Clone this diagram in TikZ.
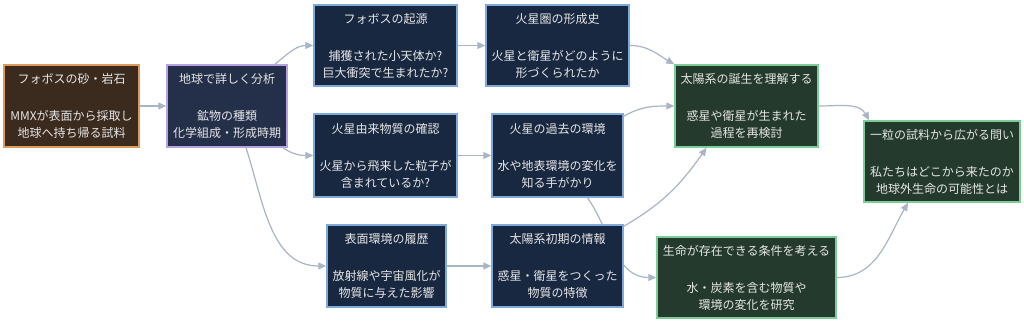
\documentclass[tikz,border=0pt]{standalone}
\usepackage{fontspec}
\setmainfont{Noto Sans CJK JP}
\usetikzlibrary{arrows.meta,calc,backgrounds}
\definecolor{txt}{HTML}{E6E6E6}
\definecolor{edgec}{HTML}{A8B5C7}
\definecolor{brfill}{HTML}{3B2A1E}
\definecolor{brdraw}{HTML}{DE9A5C}
\definecolor{pufill}{HTML}{243049}
\definecolor{pudraw}{HTML}{B7A1E0}
\definecolor{blfill}{HTML}{182840}
\definecolor{bldraw}{HTML}{7FA9D9}
\definecolor{grfill}{HTML}{233A2C}
\definecolor{grdraw}{HTML}{7CCC98}
\tikzset{
  box/.style={rectangle, line width=1.5pt, text=txt, align=center, inner sep=0pt,
    font=\fontsize{12}{17}\selectfont},
  brownbox/.style={box, fill=brfill, draw=brdraw},
  purplebox/.style={box, fill=pufill, draw=pudraw},
  bluebox/.style={box, fill=blfill, draw=bldraw},
  greenbox/.style={box, fill=grfill, draw=grdraw},
  link/.style={draw=edgec, line width=1.2pt, -{Triangle[length=8pt,width=7pt]}},
}
\begin{document}
\begin{tikzpicture}[x=1pt,y=1pt]
\useasboundingbox (0,0) rectangle (1024,323);
\node[brownbox, minimum width=135pt, minimum height=82pt] (A) at (71.5,217)
  {フォボスの砂・岩石\\[20pt]MMXが表面から採取し\\地球へ持ち帰る試料};
\node[purplebox, minimum width=120pt, minimum height=82pt] (B) at (227,217)
  {地球で詳しく分析\\[20pt]鉱物の種類\\化学組成・形成時期};
\node[bluebox, minimum width=143pt, minimum height=81pt] (C) at (385.5,277.5)
  {フォボスの起源\\[20pt]捕獲された小天体か?\\巨大衝突で生まれたか?};
\node[bluebox, minimum width=143pt, minimum height=81pt] (D) at (557.5,277.5)
  {火星圏の形成史\\[20pt]火星と衛星がどのように\\形づくられたか};
\node[bluebox, minimum width=143pt, minimum height=83pt] (E) at (385.5,167.5)
  {火星由来物質の確認\\[20pt]火星から飛来した粒子が\\含まれているか?};
\node[bluebox, minimum width=131pt, minimum height=83pt] (F) at (557.5,167.5)
  {火星の過去の環境\\[20pt]水や地表環境の変化を\\知る手がかり};
\node[bluebox, minimum width=119pt, minimum height=82pt] (G) at (386.5,57)
  {表面環境の履歴\\[20pt]放射線や宇宙風化が\\物質に与えた影響};
\node[bluebox, minimum width=131pt, minimum height=82pt] (H) at (557.5,57)
  {太陽系初期の情報\\[20pt]惑星・衛星をつくった\\物質の特徴};
\node[greenbox, minimum width=143pt, minimum height=82pt] (I) at (746.5,217)
  {太陽系の誕生を理解する\\[20pt]惑星や衛星が生まれた\\過程を再検討};
\node[greenbox, minimum width=156pt, minimum height=81pt] (J) at (942,161.5)
  {一粒の試料から広がる問い\\[20pt]私たちはどこから来たのか\\地球外生命の可能性とは};
\node[greenbox, minimum width=179pt, minimum height=81pt] (K) at (746.5,45.5)
  {生命が存在できる条件を考える\\[20pt]水・炭素を含む物質や\\環境の変化を研究};

\draw[link] (A.east) -- (B.west);
\draw[link] ($(B.north)+(48,0)$) to[out=40,in=180] (C.west);
\draw[link] ($(B.south)+(56,0)$) to[out=-35,in=180] (E.west);
\draw[link] ($(B.south)+(19,0)$) to[out=-72,in=180] (G.west);
\draw[link] (C.east) -- (D.west);
\draw[link] (E.east) -- (F.west);
\draw[link] (G.east) -- (H.west);
\draw[link] (D.east) to[out=0,in=150] (I.north west);
\draw[link] ($(F.north east)+(0,-3)$) to[out=30,in=180] (I.west);
\draw[link] ($(H.north east)+(0,-2)$) to[out=30,in=-125] ($(I.south)+(-40,0)$);
\begin{scope}[on background layer]
\fill[white] (0,0) rectangle (1024,323);
\draw[link] ($(F.south)+(30,0)$) to[out=-55,in=180] (K.west);
\end{scope}
\draw[link] (I.east) to[out=0,in=120] ($(J.north west)+(6,0)$);
\draw[link] (K.east) to[out=0,in=-120] ($(J.south)+(-34,0)$);
\end{tikzpicture}
\end{document}
